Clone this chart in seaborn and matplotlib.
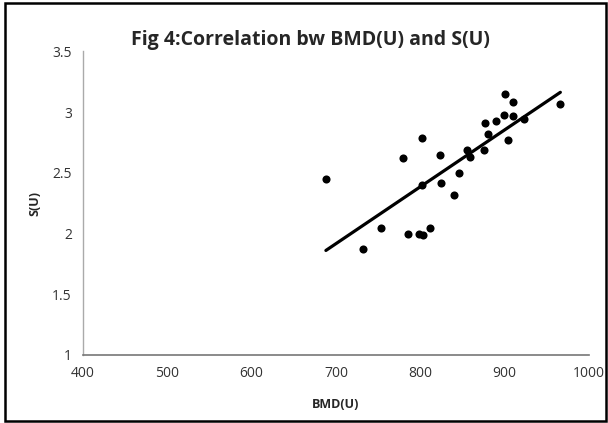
import matplotlib
matplotlib.use("Agg")
import matplotlib.pyplot as plt
import pandas as pd
import seaborn as sns
from matplotlib.patches import Rectangle

# Dados
bmd_u = [688, 732, 753, 780, 785, 798, 803, 802, 802, 811,
         823, 825, 840, 846, 855, 859, 875, 877, 880, 890,
         899, 900, 904, 910, 910, 923, 966]
s_u = [2.45, 1.87, 2.05, 2.62, 2.00, 2.00, 1.99, 2.40, 2.79, 2.05,
       2.65, 2.42, 2.32, 2.50, 2.69, 2.63, 2.69, 2.91, 2.82, 2.93,
       2.98, 3.15, 2.77, 3.08, 2.97, 2.94, 3.07]

x_ticks = [400, 500, 600, 700, 800, 900, 1000]
y_ticks = [1, 1.5, 2, 2.5, 3, 3.5]
y_tick_labels = ["1", "1.5", "2", "2.5", "3", "3.5"]

df = pd.DataFrame({"BMD(U)": bmd_u, "S(U)": s_u})

sns.set_style("white")
plt.rcParams["font.family"] = ["Open Sans", "DejaVu Sans"]

fig = plt.figure(figsize=(6.08, 4.23), dpi=100)
ax = fig.add_axes([0.1365, 0.1608, 0.8323, 0.7175])

# Dispersão + reta de regressão
sns.regplot(data=df, x="BMD(U)", y="S(U)", ci=None, ax=ax,
            scatter_kws={"s": 34, "color": "black", "alpha": 1, "linewidths": 0},
            line_kws={"color": "black", "linewidth": 2.3})

ax.set_xlim(400, 1000)
ax.set_ylim(1, 3.5)
ax.set_xticks(x_ticks)
ax.set_yticks(y_ticks)
ax.set_yticklabels(y_tick_labels)
ax.tick_params(axis="both", labelsize=10, length=4, width=0.8,
               direction="out", colors="#333333", pad=4)
ax.tick_params(axis="x", color="#777777")
ax.tick_params(axis="y", color="#aaaaaa")

for side in ["top", "right"]:
    ax.spines[side].set_visible(False)
ax.spines["left"].set_color("#aaaaaa")
ax.spines["bottom"].set_color("#777777")
ax.spines["left"].set_linewidth(1.0)
ax.spines["bottom"].set_linewidth(1.2)

ax.set_xlabel("BMD(U)", fontsize=9, fontweight="bold", labelpad=12)
ax.set_ylabel("S(U)", fontsize=9, fontweight="bold", labelpad=8)

fig.text(0.51, 0.905, "Fig 4:Correlation bw BMD(U) and S(U)",
         ha="center", va="center", fontsize=14, fontweight="bold")

# Moldura externa
fig.patches.append(Rectangle((0.008, 0.004), 0.988, 0.99, transform=fig.transFigure,
                             fill=False, edgecolor="black", linewidth=1.8))

fig.savefig("out.png", dpi=100)
